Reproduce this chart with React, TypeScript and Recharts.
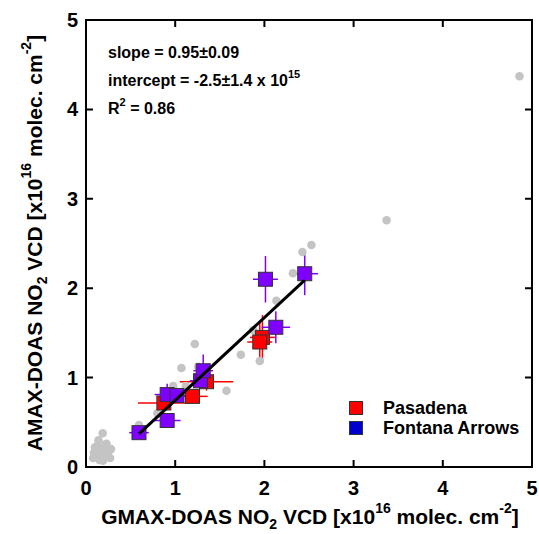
import React from "react";
import { ScatterChart, Scatter, XAxis, YAxis, ErrorBar } from "recharts";

// reference points (gray)
const refX = [0.08, 0.12, 0.15, 0.18, 0.2, 0.22, 0.25, 0.1, 0.14, 0.17, 0.21, 0.24, 0.09, 0.13, 0.19, 0.23, 0.16, 0.187, 0.28, 0.27,
  0.594, 0.8, 0.978, 1.07, 1.12, 1.22, 1.258, 1.575, 1.736, 1.948, 2.135, 1.874, 2.32, 2.426, 2.527, 3.37, 4.86]
const refY = [0.1, 0.15, 0.08, 0.2, 0.12, 0.25, 0.18, 0.22, 0.3, 0.1, 0.2, 0.14, 0.16, 0.24, 0.07, 0.26, 0.18, 0.377, 0.2, 0.1,
  0.47, 0.6, 0.906, 1.107, 0.906, 1.376, 1.12, 0.853, 1.256, 1.186, 1.86, 1.53, 2.167, 2.405, 2.483, 2.76, 4.37]

// Pasadena
const pasX = [0.873, 1.194, 1.351, 1.978, 1.948]
const pasY = [0.716, 0.79, 0.954, 1.45, 1.398]
const pasXErr = [0.29, 0.17, 0.3, 0.14, 0.14]
const pasYErr = [0.06, 0.08, 0.1, 0.25, 0.22]

// Fontana Arrows
const fonX = [0.594, 0.91, 0.91, 1.02, 1.284, 1.314, 2.012, 2.128, 2.452]
const fonY = [0.384, 0.52, 0.81, 0.8, 0.965, 1.077, 2.1, 1.563, 2.162]
const fonXErr = [0.11, 0.15, 0.14, 0.1, 0.12, 0.11, 0.14, 0.16, 0.15]
const fonYErr = [0.07, 0.07, 0.12, 0.08, 0.08, 0.18, 0.26, 0.18, 0.24]

// fit line endpoints
const fitX = [0.594, 2.452]
const fitY = [0.37, 2.09]

const axisTicks = [0, 1, 2, 3, 4, 5]

const legendItems = [
  { name: "Pasadena", color: "#ff0000" },
  { name: "Fontana Arrows", color: "#0000cc" },
]

const refData = refX.map((x, i) => ({ x, y: refY[i] }))
const pasData = pasX.map((x, i) => ({ x, y: pasY[i], ex: pasXErr[i], ey: pasYErr[i] }))
const fonData = fonX.map((x, i) => ({ x, y: fonY[i], ex: fonXErr[i], ey: fonYErr[i] }))
const fitData = fitX.map((x, i) => ({ x, y: fitY[i] }))

const FONT = "'Liberation Sans', Arial, sans-serif"
const W = 539
const H = 534
const M = { top: 20, right: 7, bottom: 0, left: 0 }
const Y_AXIS_W = 86
const X_AXIS_H = 67
const PLOT_W = W - M.left - M.right - Y_AXIS_W
const PLOT_H = H - M.top - M.bottom - X_AXIS_H
const TICK_LEN = 7
const MARGIN = 12

const squareShape = (fill: string) => (props: any) => (
  <rect x={props.cx - 7} y={props.cy - 7} width={14} height={14} fill={fill} stroke="#333" strokeWidth={1} />
)

const dotShape = (props: any) => <circle cx={props.cx} cy={props.cy} r={4.3} fill="#c4c4c4" />

// bottom tick: label + inward ticks on bottom and top edges
const BottomTick = (props: any) => {
  const { x, y, payload } = props
  const axisY = y - MARGIN
  const topY = axisY - PLOT_H
  const v = payload.value
  return (
    <g>
      {v > 0 && v < 5 && <path d={`M${x},${axisY}V${axisY - TICK_LEN}M${x},${topY}V${topY + TICK_LEN}`} stroke="#000" strokeWidth={2} fill="none" />}
      <text x={x} y={axisY + 28} textAnchor="middle" fontFamily={FONT} fontWeight="bold" fontSize={20} fill="#000">
        {v}
      </text>
    </g>
  )
}

// left tick: label + inward ticks on left and right edges
const LeftTick = (props: any) => {
  const { x, y, payload } = props
  const axisX = x + MARGIN
  const rightX = axisX + PLOT_W
  const v = payload.value
  return (
    <g>
      {v > 0 && v < 5 && <path d={`M${axisX},${y}H${axisX + TICK_LEN}M${rightX},${y}H${rightX - TICK_LEN}`} stroke="#000" strokeWidth={2} fill="none" />}
      <text x={axisX - 8} y={y + 7} textAnchor="end" fontFamily={FONT} fontWeight="bold" fontSize={20} fill="#000">
        {v}
      </text>
    </g>
  )
}

export default function App() {
  return (
    <div style={{ position: "absolute", left: 0, top: 0, width: W, height: H, background: "#fff" }}>
      <ScatterChart width={W} height={H} margin={M}>
        <XAxis type="number" dataKey="x" domain={[0, 5]} ticks={axisTicks} height={X_AXIS_H}
          axisLine={{ stroke: "#000", strokeWidth: 2 }} tickLine={false} tickSize={0} tickMargin={MARGIN} tick={<BottomTick />} />
        <YAxis type="number" dataKey="y" domain={[0, 5]} ticks={axisTicks} width={Y_AXIS_W}
          axisLine={{ stroke: "#000", strokeWidth: 2 }} tickLine={false} tickSize={0} tickMargin={MARGIN} tick={<LeftTick />} />

        <Scatter data={refData} shape={dotShape} isAnimationActive={false} />
        <Scatter data={pasData} shape={squareShape("#ff0000")} isAnimationActive={false}>
          <ErrorBar dataKey="ex" direction="x" width={0} stroke="#ff0000" strokeWidth={1.5} />
          <ErrorBar dataKey="ey" direction="y" width={0} stroke="#ff0000" strokeWidth={1.5} />
        </Scatter>
        <Scatter data={fonData} shape={squareShape("#8000ff")} isAnimationActive={false}>
          <ErrorBar dataKey="ex" direction="x" width={0} stroke="#8000ff" strokeWidth={1.5} />
          <ErrorBar dataKey="ey" direction="y" width={0} stroke="#8000ff" strokeWidth={1.5} />
        </Scatter>
        <Scatter data={fitData} line={{ stroke: "#000", strokeWidth: 3 }} shape={() => null} isAnimationActive={false} />

        <g fontFamily={FONT} fontWeight="bold" fontSize={16} fill="#000">
          <text x={108} y={58}>slope = 0.95±0.09</text>
          <text x={108} y={86}>
            intercept = -2.5±1.4 x 10<tspan dy={-8} fontSize={11}>15</tspan>
          </text>
          <text x={108} y={114}>
            R<tspan dy={-8} fontSize={11}>2</tspan><tspan dy={8}> = 0.86</tspan>
          </text>
        </g>
        <g fontFamily={FONT} fontWeight="bold" fontSize={21} fill="#000">
          <text x={310} y={524} textAnchor="middle">
            GMAX-DOAS NO<tspan dy={5} fontSize={14}>2</tspan><tspan dy={-5}> VCD [x10</tspan>
            <tspan dy={-11} fontSize={14}>16</tspan><tspan dy={11}> molec. cm</tspan>
            <tspan dy={-11} fontSize={14}>-2</tspan><tspan dy={11}>]</tspan>
          </text>
          <text x={0} y={0} textAnchor="middle" transform="translate(42 243) rotate(-90)">
            AMAX-DOAS NO<tspan dy={5} fontSize={14}>2</tspan><tspan dy={-5}> VCD [x10</tspan>
            <tspan dy={-11} fontSize={14}>16</tspan><tspan dy={11}> molec. cm</tspan>
            <tspan dy={-11} fontSize={14}>-2</tspan><tspan dy={11}>]</tspan>
          </text>
        </g>
      </ScatterChart>
      {/* plot frame */}
      <div style={{ position: "absolute", left: M.left + Y_AXIS_W - 1, top: M.top - 1, width: PLOT_W + 2, height: PLOT_H + 2,
        border: "2px solid #000", boxSizing: "border-box", pointerEvents: "none" }} />
      <div style={{ position: "absolute", left: 349, top: 398, fontFamily: FONT, fontWeight: "bold", fontSize: 18, lineHeight: "20px" }}>
        {legendItems.map((it) => (
          <div key={it.name} style={{ display: "flex", alignItems: "center" }}>
            <span style={{ display: "inline-block", width: 12, height: 12, background: it.color, border: "1px solid #333", marginRight: 20 }} />
            {it.name}
          </div>
        ))}
      </div>
    </div>
  )
}
